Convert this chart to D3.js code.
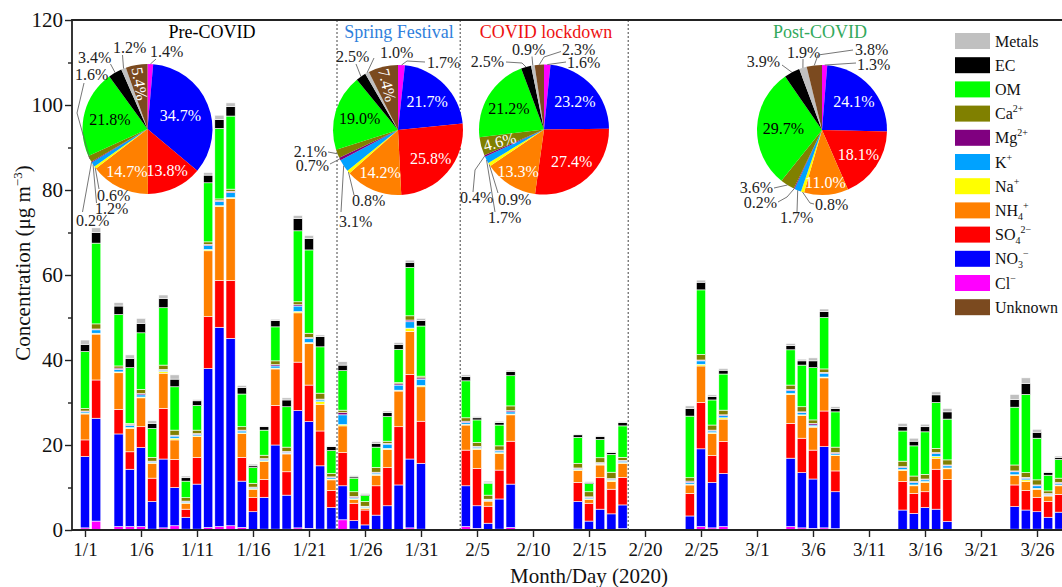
<!DOCTYPE html>
<html><head><meta charset="utf-8">
<script src="https://cdn.jsdelivr.net/npm/d3@7"></script>
<style>
body{margin:0;background:#fff;}
svg{display:block;font-family:"Liberation Serif","Times New Roman",serif;}
</style>
</head><body>
<svg id="c" width="1062" height="587"></svg>
<script>
// ---------------- DATA ----------------
const dates = ["1/1","1/2","1/4","1/5","1/6","1/7","1/8","1/9","1/10","1/11","1/12","1/13","1/14","1/15","1/16","1/17","1/18","1/19","1/20","1/21","1/22","1/23","1/24","1/25","1/26","1/27","1/28","1/29","1/30","1/31",
"2/4","2/5","2/6","2/7","2/8","2/14","2/15","2/16","2/17","2/18","2/24","2/25","2/26","2/27",
"3/4","3/5","3/6","3/7","3/8","3/14","3/15","3/16","3/17","3/18","3/24","3/25","3/26","3/27","3/28"];

const Cl = [0.5,2.1,0.8,0.8,0.8,0.2,0.5,1.0,0.2,0.2,0.6,0.8,1.0,0.6,0.1,0.2,0.2,0.2,0.5,0.4,0.2,0.2,2.4,0.2,0.15,0.15,0.15,0.15,0.5,0.2,
 0.8,0.4,0.15,0.2,0.6,0.2,0.15,0.15,0.15,0.3,0.15,0.8,0.5,0.8,
 0.8,0.5,0.4,0.5,0.3,0.15,0.15,0.15,0.15,0.15,0.2,0.2,0.2,0.2,0.2];
const NO3 = [16.8,24.2,21.8,13.5,18.6,6.5,16.2,9.0,2.8,10.6,37.4,46.9,44.1,10.9,4.2,7.5,19.8,8.0,27.6,25.1,14.9,5.1,8.0,2.0,1.05,3.35,5.55,10.45,16.2,15.5,
 9.6,5.3,1.45,7.1,10.2,6.5,1.95,4.75,3.65,5.6,3.15,18.3,10.7,12.5,
 16.1,13.0,11.6,19.1,8.7,4.55,3.75,5.15,4.75,1.85,5.3,4.5,4.1,2.8,4.0];
const SO4 = [3.9,9.0,5.8,4.1,4.9,5.5,11.9,6.6,1.9,6.3,12.2,11.0,13.6,5.6,3.3,4.2,9.3,5.5,11.4,8.6,8.2,4.0,7.8,4.1,3.5,6.9,9.0,13.7,19.9,9.9,
 8.4,8.8,4.0,6.8,10.1,4.5,4.2,7.4,5.8,6.5,5.3,10.9,6.3,7.5,
 8.2,8.1,6.8,8.4,4.9,6.7,4.7,3.7,9.4,9.9,5.1,4.6,3.4,3.7,4.2];
const NH4 = [6.1,10.8,8.6,5.5,6.8,3.5,8.3,4.6,1.4,4.9,15.5,17.4,19.3,5.6,2.0,4.2,8.6,4.2,11.6,9.8,6.3,2.5,6.3,0.9,0.4,2.5,4.3,8.4,10.1,8.1,
 5.9,4.5,1.2,3.9,6.2,2.8,0.9,3.0,1.8,3.3,2.0,8.6,5.2,5.3,
 6.8,5.3,5.4,7.8,3.6,2.6,1.8,2.2,2.6,2.5,2.2,2.1,1.9,1.3,2.0];
const Na = [0.2,0.2,0.2,0.2,0.2,0.15,0.4,0.4,0.15,0.15,0.3,0.2,0.2,0.15,0.15,0.2,0.2,0.15,0.3,0.2,0.6,0.2,0.3,0.15,0.15,0.2,0.2,0.2,0.8,0.3,
 0.2,0.2,0.15,0.2,0.2,0.2,0.15,0.2,0.3,0.15,0.2,0.4,0.2,0.3,
 0.2,0.2,0.2,0.2,0.15,0.2,0.2,0.2,0.4,0.2,0.2,0.4,0.2,0.15,0.2];
const K = [0.3,0.8,0.6,0.5,0.5,0.25,0.3,0.5,0.25,0.35,0.9,1.0,1.2,0.45,0.25,0.3,0.5,0.25,1.3,1.0,0.4,0.3,2.3,0.25,0.2,0.3,1.0,1.2,1.5,1.5,
 0.4,0.3,0.15,0.4,0.5,0.2,0.25,0.2,0.25,0.35,0.4,0.8,0.4,0.5,
 0.7,0.5,0.3,0.9,0.35,0.5,0.6,0.4,0.7,0.5,0.7,0.4,0.6,0.25,0.4];
const Mg = [0.2,0.2,0.3,0.2,0.3,0.1,0.2,0.2,0.1,0.2,0.3,0.2,0.3,0.2,0.1,0.2,0.3,0.2,0.3,0.2,0.2,0.2,0.5,0.3,0.15,0.2,0.2,0.3,0.4,0.3,
 0.3,0.2,0.15,0.2,0.3,0.2,0.2,0.15,0.15,0.2,0.3,0.2,0.2,0.2,
 0.3,0.2,0.4,0.2,0.2,0.2,0.2,0.2,0.2,0.2,0.2,0.2,0.2,0.2,0.2];
const Ca = [0.6,1.2,0.5,0.3,1.0,0.9,1.0,1.2,0.8,0.8,0.6,0.4,0.5,0.8,0.9,0.8,0.9,1.0,0.7,1.0,1.4,0.8,0.6,1.1,1.1,1.1,0.5,0.3,1.0,0.4,
 0.8,0.9,0.95,1.0,1.1,1.1,1.2,1.15,1.5,0.7,0.8,1.3,1.2,1.1,
 1.0,1.2,0.8,0.8,1.3,1.3,1.3,1.1,1.0,1.2,1.4,1.1,1.2,0.6,1.0];
const OM = [13.4,19.0,12.1,13.1,13.3,6.8,13.5,10.2,3.9,5.8,13.9,16.6,17.2,7.7,3.7,5.9,8.0,9.5,16.7,19.6,10.9,5.4,9.3,3.2,1.4,4.8,5.8,7.8,11.4,11.8,
 8.7,5.3,2.8,4.9,7.1,6.1,1.9,4.3,4.2,7.4,14.5,15.2,5.9,8.5,
 8.3,9.8,12.3,12.1,8.3,7.1,7.1,10.0,10.8,9.6,13.6,18.4,9.8,3.7,4.4];
const EC = [1.7,2.5,2.0,2.2,2.2,1.2,2.2,1.8,0.8,1.1,1.8,2.1,2.2,1.5,0.4,0.8,1.5,1.6,2.9,2.7,2.4,0.9,1.3,0.3,0.3,0.9,0.9,1.2,1.2,1.3,
 1.0,0.5,0.2,0.6,1.0,0.6,0.2,0.7,0.4,0.8,1.8,1.8,0.8,0.9,
 1.0,1.0,1.6,1.4,0.8,1.0,1.1,1.2,1.8,1.7,1.8,2.6,1.4,0.6,0.5];
const Metals = [1.0,1.1,0.8,0.8,1.2,0.6,0.8,1.0,0.4,0.3,0.6,1.0,0.9,0.5,0.4,0.2,0.3,0.5,0.7,0.7,0.4,0.2,0.8,0.3,0.2,0.4,0.4,0.4,0.5,0.5,
 0.4,0.3,0.3,0.3,0.3,0.2,0.3,0.2,0.2,0.2,0.6,0.5,0.4,0.4,
 0.5,0.4,0.7,0.6,0.4,0.8,0.7,0.6,0.7,0.8,1.2,1.3,0.7,0.2,0.3];

// pie shares (%) in order: Cl, NO3, SO4, NH4, Na, K, Mg, Ca, OM, EC, Metals, Unknown
const preCOVID       = [1.4,34.7,13.8,14.7,0.6,1.2,0.2,1.6,21.8,3.4,1.2,5.4];
const springFestival = [1.7,21.7,25.8,14.2,0.8,3.1,0.7,2.1,19.0,2.5,1.0,7.4];
const covidLockdown  = [1.6,23.2,27.4,13.3,0.9,1.7,0.4,4.6,21.2,2.5,0.9,2.3];
const postCOVID      = [1.3,24.1,18.1,11.0,0.8,1.7,0.2,3.6,29.7,3.9,1.9,3.8];
const periodTitles = ["Pre-COVID","Spring Festival","COVID lockdown","Post-COVID"];
const periodBreaks = ["1/23","2/3","2/18"]; // dotted separators after these days

const yTicks = [0,20,40,60,80,100,120];
const xTickLabels = ["1/1","1/6","1/11","1/16","1/21","1/26","1/31","2/5","2/10","2/15","2/20","2/25","3/1","3/6","3/11","3/16","3/21","3/26"];

// ---------------- STYLE ----------------
const keys = ["Cl","NO3","SO4","NH4","Na","K","Mg","Ca","OM","EC","Metals"];
const series = {Cl,NO3,SO4,NH4,Na,K,Mg,Ca,OM,EC,Metals};
const colors = {Metals:"#c0c0c0",EC:"#000000",OM:"#00ff00",Ca:"#808000",Mg:"#800080",K:"#00a2ff",
  Na:"#ffff00",NH4:"#ff8000",SO4:"#ff0000",NO3:"#0000ff",Cl:"#ff00ff",Unknown:"#7b4a1f"};
const pieKeys = ["Cl","NO3","SO4","NH4","Na","K","Mg","Ca","OM","EC","Metals","Unknown"];

const svg = d3.select("#c");
const toDate = s => { const [m,d] = s.split("/").map(Number); return new Date(Date.UTC(2020,m-1,d)); };
const x = d3.scaleUtc().domain([toDate("1/1"), toDate("3/26")]).range([85, 1037]);
const y = d3.scaleLinear().domain([0,120]).range([530,20]);
const dayW = x(toDate("1/2")) - x(toDate("1/1"));
const bw = 9.2;

// ---------------- BARS ----------------
const rows = dates.map((d,i) => { const r = {date: toDate(d)}; keys.forEach(k => r[k] = series[k][i]); return r; });
const stacked = d3.stack().keys(keys)(rows);
svg.append("g").selectAll("g").data(stacked).join("g")
  .attr("fill", s => colors[s.key])
  .selectAll("rect").data(s => s).join("rect")
  .attr("x", d => x(d.data.date) - bw/2)
  .attr("width", bw)
  .attr("y", d => y(d[1]))
  .attr("height", d => Math.max(0, y(d[0]) - y(d[1])))
  .attr("stroke", "#fff").attr("stroke-width", 0.6);

// dotted period separators
svg.append("g").selectAll("line").data(periodBreaks).join("line")
  .attr("x1", d => x(toDate(d)) + dayW/2)
  .attr("x2", d => x(toDate(d)) + dayW/2)
  .attr("y1", 20).attr("y2", 530)
  .attr("stroke", "#444").attr("stroke-width", 1).attr("stroke-dasharray", "2,2");

// ---------------- AXES ----------------
const axisColor = "#222";
const gy = svg.append("g").attr("transform","translate(72,0)")
  .call(d3.axisLeft(y).tickValues(yTicks).tickSize(7).tickPadding(2));
gy.select(".domain").remove();
gy.selectAll(".tick line").attr("stroke",axisColor).attr("stroke-width",1.4);
gy.selectAll(".tick text").attr("font-size",21).attr("fill","#111").attr("font-family","Liberation Serif, serif");
const gym = svg.append("g").attr("transform","translate(72,0)")
  .call(d3.axisLeft(y).tickValues(d3.range(10,120,20)).tickSize(4).tickFormat(""));
gym.select(".domain").remove();
gym.selectAll(".tick line").attr("stroke",axisColor).attr("stroke-width",1.4);

const gx = svg.append("g").attr("transform","translate(0,530)")
  .call(d3.axisBottom(x).tickValues(xTickLabels.map(toDate)).tickSize(7).tickPadding(6)
    .tickFormat(d => (d.getUTCMonth()+1) + "/" + d.getUTCDate()));
gx.select(".domain").remove();
gx.selectAll(".tick line").attr("stroke",axisColor).attr("stroke-width",1.4);
gx.selectAll(".tick text").attr("font-size",19).attr("fill","#111").attr("font-family","Liberation Serif, serif");

// frame
svg.append("path").attr("d","M1062,20H72V530H1062").attr("fill","none").attr("stroke",axisColor).attr("stroke-width",1.8);

// axis titles
svg.append("text").attr("x",589).attr("y",583).attr("text-anchor","middle").attr("font-size",21).attr("fill","#111")
  .text("Month/Day (2020)");
const yt = svg.append("text").attr("transform","translate(30,263) rotate(-90)").attr("text-anchor","middle")
  .attr("font-size",21).attr("fill","#111");
yt.append("tspan").text("Concentration (μg m");
yt.append("tspan").attr("font-size",13).attr("dy",-8).text("−3");
yt.append("tspan").attr("dy",8).text(")");

// ---------------- LEGEND ----------------
const legendItems = [
  ["Metals",[["Metals"]]],["EC",[["EC"]]],["OM",[["OM"]]],
  ["Ca",[["Ca"],["2+","sup"]]],["Mg",[["Mg"],["2+","sup"]]],["K",[["K"],["+","sup"]]],
  ["Na",[["Na"],["+","sup"]]],["NH4",[["NH"],["4","sub"],["+","supAfterSub"]]],
  ["SO4",[["SO"],["4","sub"],["2−","supAfterSub"]]],["NO3",[["NO"],["3","sub"],["−","supAfterSub"]]],
  ["Cl",[["Cl"],["−","sup"]]],["Unknown",[["Unknown"]]]
];
const lg = svg.append("g");
legendItems.forEach(([k,parts],i) => {
  const cy = 41 + i*24.2;
  lg.append("rect").attr("x",955).attr("y",cy-8).attr("width",35).attr("height",16).attr("fill",colors[k]);
  const t = lg.append("text").attr("x",995).attr("y",cy+5.5).attr("font-size",16).attr("fill","#111");
  parts.forEach(([s,type]) => {
    const ts = t.append("tspan").text(s);
    if (type==="sup") ts.attr("font-size",10).attr("dy",-7);
    else if (type==="sub") ts.attr("font-size",10).attr("dy",4);
    else if (type==="supAfterSub") ts.attr("font-size",10).attr("dy",-11);
  });
});

// ---------------- PIES ----------------
const R = 65;
const pies = [
  {vals:preCOVID, cx:147.5, cy:129, tx:212, color:"#000000", labels:{
    0:{t:[2.5,-72],a:"start",p:[[8.5,-70]]},
    1:{r:35.5,c:"#fff"}, 2:{r:46,c:"#fff"}, 3:{r:47,c:"#fff"},
    4:{t:[-50.5,72],a:"start",p:[[-48.5,60]]},
    5:{t:[-52.5,84.5],a:"start",p:[[-51,74]]},
    6:{t:[-71.5,96.5],a:"start",p:[[-65,83]]},
    7:{t:[-72.5,-49],a:"start",p:[[-70.5,-16],[-63.5,-46]]},
    8:{r:38.8,c:"#000"},
    9:{t:[-69.5,-66],a:"start",p:[[-37,-65]]},
    10:{t:[-34.5,-76],a:"start",p:[[-25,-74]]},
    11:{r:46,c:"#fff",rot:true}}},
  {vals:springFestival, cx:398, cy:130, tx:399, color:"#2f7fdc", labels:{
    0:{t:[29,-62],a:"start",p:[[9,-69],[27,-68]]},
    1:{r:41,c:"#fff"}, 2:{r:43,c:"#fff"}, 3:{r:46,c:"#fff"},
    4:{t:[-46,76],a:"start",p:[[-44,65]]},
    5:{t:[-59,97],a:"start",p:[[-57,82]]},
    6:{t:[-69,41],a:"end",p:[[-68,34]]},
    7:{t:[-71,27],a:"end",p:[[-70,22]]},
    8:{r:40,c:"#000"},
    9:{t:[-62,-68],a:"start",p:[[-42,-66]]},
    10:{t:[-18,-72],a:"start",p:[[-24,-72]]},
    11:{r:46,c:"#fff",rot:true}}},
  {vals:covidLockdown, cx:544, cy:129.5, tx:546, color:"#ee1111", labels:{
    0:{t:[23,-61.5],a:"start",p:[[22,-67.5]]},
    1:{r:42,c:"#fff"}, 2:{r:42,c:"#fff"}, 3:{r:49,c:"#fff"},
    4:{t:[-46,75.5],a:"start",p:[[-46,63.5]]},
    5:{t:[-56,93.5],a:"start",p:[[-49,82.5]]},
    6:{t:[-84,73.5],a:"start",p:[[-69,40.5],[-71,62.5]]},
    7:{r:46,c:"#fff",rotA:-15},
    8:{r:41,c:"#000"},
    9:{t:[-40,-62.5],a:"end",p:[[-22,-66.5],[-38,-67.5]]},
    10:{t:[-32,-74.5],a:"start",p:[[-12,-73]]},
    11:{t:[18,-75],a:"start",p:[[0,-72.5],[17,-78]]}}},
  {vals:postCOVID, cx:822, cy:130, tx:820, color:"#33a95c", labels:{
    0:{t:[35,-60],a:"start",p:[[34,-67]]},
    1:{r:43,c:"#fff"}, 2:{r:44,c:"#fff"}, 3:{r:52.5,c:"#fff"},
    4:{t:[-7,80],a:"start",p:[[-12,73],[-8,74]]},
    5:{t:[-42,93],a:"start",p:[[-25,82]]},
    6:{t:[-45,78],a:"end",p:[[-35,67],[-44,72]]},
    7:{t:[-49,63],a:"end",p:[[-48,58]]},
    8:{r:38.6,c:"#000"},
    9:{t:[-42,-63],a:"end",p:[[-40,-65]]},
    10:{t:[-35,-72],a:"start",p:[[-19,-71]]},
    11:{t:[33,-75],a:"start",p:[[-4,-75],[31,-80]]}}}
];
const arc = d3.arc().innerRadius(0).outerRadius(R);
const pieGen = d3.pie().sort(null).value(d => d);
pies.forEach((P,pi) => {
  const g = svg.append("g").attr("transform",`translate(${P.cx},${P.cy})`);
  const arcs = pieGen(P.vals);
  g.selectAll("path").data(arcs).join("path").attr("d",arc).attr("fill",(d,i)=>colors[pieKeys[i]]);
  arcs.forEach((a,i) => {
    const L = P.labels[i]; if (!L) return;
    const mid = (a.startAngle + a.endAngle)/2;
    const label = d3.format(".1f")(a.data) + "%";
    if (L.r) {
      const px = L.r*Math.sin(mid), py = -L.r*Math.cos(mid);
      let rot = 0;
      if (L.rot) rot = mid*180/Math.PI - 270;
      if (L.rotA) rot = L.rotA;
      g.append("text").attr("transform",`translate(${px},${py}) rotate(${rot})`)
        .attr("text-anchor","middle").attr("dy","0.35em").attr("font-size",16).attr("fill",L.c).text(label);
    } else {
      const pts = [[R*Math.sin(mid), -R*Math.cos(mid)], ...L.p];
      g.append("path").attr("d", d3.line()(pts)).attr("fill","none").attr("stroke","#666").attr("stroke-width",0.9);
      g.append("text").attr("x",L.t[0]).attr("y",L.t[1]).attr("text-anchor",L.a)
        .attr("font-size",16).attr("fill","#222").text(label);
    }
  });
  svg.append("text").attr("x",P.tx).attr("y",38).attr("text-anchor","middle").attr("font-size",18)
    .attr("fill",P.color).text(periodTitles[pi]);
});
</script>
</body></html>
